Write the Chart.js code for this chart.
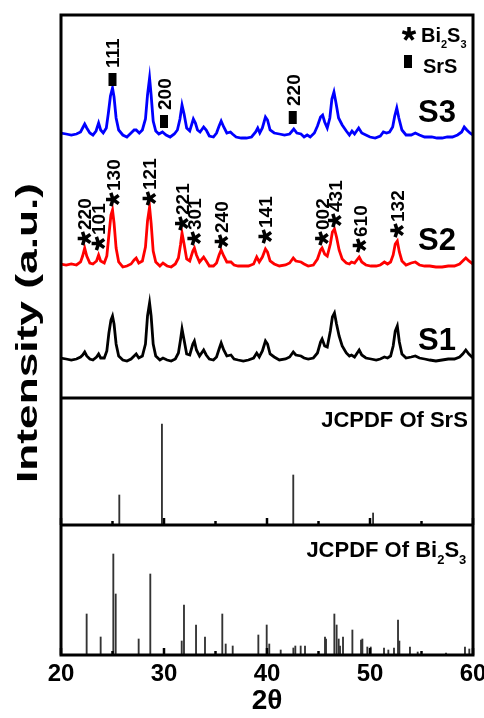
<!DOCTYPE html>
<html>
<head>
<meta charset="utf-8">
<script src="https://cdn.jsdelivr.net/npm/chart.js@4.4.1/dist/chart.umd.min.js"></script>
<style>
  html, body { margin: 0; padding: 0; background: #fff; }
  #wrap { width: 484px; height: 718px; }
</style>
</head>
<body>
<div id="wrap"><canvas id="xrd" width="484" height="718"></canvas></div>
<script>
// 2theta range and tick labels
const xTicks = [20, 30, 40, 50, 60];
const panelTicks = [20, 25, 30, 35, 40, 45, 50, 55, 60];

// measured patterns, [2theta, intensity above own baseline]
const s1 = [[20.0,2],[20.5,1],[21.0,0],[21.5,1],[21.9,3],[22.1,5],[22.3,8],[22.5,4],[22.8,1],[23.1,0],
  [23.45,3],[23.65,6],[23.85,2],[24.2,2],[24.45,9],[24.65,27],[24.85,40],[25.0,44],[25.15,36],[25.35,16],
  [25.6,4],[26.0,0],[26.4,-1],[26.8,1],[27.1,4],[27.3,6],[27.55,2],[27.9,4],[28.2,16],[28.4,44],
  [28.6,57],[28.75,44],[28.95,16],[29.2,4],[29.6,0],[29.9,2],[30.3,0],[30.7,-1],[31.1,1],[31.4,7],
  [31.6,20],[31.75,31],[31.95,20],[32.2,6],[32.5,5],[32.8,16],[32.95,19],[33.15,10],[33.45,4],[33.85,10],
  [34.1,5],[34.4,1],[34.8,0],[35.1,3],[35.35,11],[35.55,17],[35.8,10],[36.1,4],[36.5,5],[36.8,1],
  [37.2,0],[37.7,-1],[38.2,0],[38.7,2],[39.0,7],[39.25,3],[39.55,9],[39.85,19],[40.05,16],[40.3,6],
  [40.7,3],[41.2,0],[41.8,1],[42.2,3],[42.55,8],[42.8,5],[43.3,4],[43.6,2],[44.0,1],[44.5,2],
  [44.9,7],[45.2,18],[45.35,21],[45.6,14],[45.85,13],[46.15,29],[46.35,43],[46.55,47],[46.75,36],[47.0,24],
  [47.3,14],[47.7,7],[48.0,4],[48.2,5],[48.5,3],[48.95,10],[49.2,5],[49.6,2],[50.1,1],[50.6,0],
  [51.0,1],[51.4,3],[51.7,2],[52.0,4],[52.25,14],[52.45,29],[52.65,34],[52.85,18],[53.1,6],[53.5,2],
  [54.0,3],[54.4,4],[54.8,2],[55.3,1],[55.8,0],[56.4,-1],[57.0,0],[57.6,1],[58.2,1],[58.7,3],
  [59.0,6],[59.3,10],[59.6,6],[60.0,2]];

const s2 = [[20.0,1],[20.5,0],[21.0,1],[21.5,0],[21.9,3],[22.1,9],[22.3,17],[22.5,9],[22.8,2],[23.1,1],
  [23.45,4],[23.65,10],[23.85,4],[24.2,2],[24.45,9],[24.65,30],[24.85,50],[25.0,55],[25.15,42],[25.35,17],
  [25.6,3],[26.0,-2],[26.4,-1],[26.8,1],[27.1,5],[27.3,7],[27.55,2],[27.9,4],[28.2,18],[28.4,44],
  [28.6,58],[28.75,42],[28.95,14],[29.2,3],[29.6,-1],[29.9,2],[30.3,-1],[30.7,-2],[31.1,1],[31.4,7],
  [31.6,20],[31.75,32],[31.95,21],[32.2,6],[32.5,4],[32.8,14],[32.95,17],[33.15,10],[33.45,3],[33.85,8],
  [34.1,4],[34.4,-1],[34.8,-1],[35.1,2],[35.35,10],[35.55,15],[35.8,9],[36.1,3],[36.5,3],[36.8,0],
  [37.2,-1],[37.7,-1],[38.2,-1],[38.7,1],[39.0,8],[39.25,3],[39.55,8],[39.85,16],[40.05,13],[40.3,4],
  [40.7,1],[41.2,-1],[41.8,0],[42.2,2],[42.55,7],[42.8,4],[43.3,3],[43.6,1],[44.0,-1],[44.5,0],
  [44.9,6],[45.2,15],[45.35,17],[45.6,11],[45.85,9],[46.15,21],[46.35,33],[46.55,36],[46.75,28],[47.0,15],
  [47.3,6],[47.7,2],[48.0,1],[48.2,3],[48.5,2],[48.95,8],[49.2,3],[49.6,0],[50.1,-1],[50.6,-1],
  [51.0,0],[51.4,3],[51.7,1],[52.0,3],[52.25,10],[52.45,21],[52.65,24],[52.85,13],[53.1,4],[53.5,0],
  [54.0,2],[54.4,3],[54.8,0],[55.3,-1],[55.8,-1],[56.4,-2],[57.0,-2],[57.6,-1],[58.2,-1],[58.7,1],
  [59.0,4],[59.3,7],[59.6,4],[60.0,1]];

const s3 = [[20.0,2],[20.5,1],[21.0,0],[21.5,1],[21.9,3],[22.1,7],[22.3,11],[22.5,7],[22.8,2],[23.1,0],
  [23.4,4],[23.65,12],[23.85,5],[24.1,2],[24.4,7],[24.6,22],[24.8,39],[25.0,47],[25.15,38],[25.35,17],
  [25.6,5],[26.0,0],[26.4,-2],[26.8,2],[27.1,5],[27.3,5],[27.6,2],[27.9,5],[28.2,16],[28.4,40],
  [28.6,57],[28.75,40],[28.95,14],[29.2,4],[29.5,1],[29.85,3],[30.2,0],[30.6,-2],[31.0,1],[31.3,5],
  [31.55,16],[31.75,30],[31.95,21],[32.2,7],[32.5,4],[32.85,16],[33.05,12],[33.25,5],[33.5,3],[33.85,8],
  [34.1,5],[34.4,-1],[34.8,-2],[35.1,2],[35.35,9],[35.55,14],[35.8,8],[36.1,2],[36.45,3],[36.65,1],
  [37.0,-2],[37.5,-3],[38.0,-3],[38.5,-2],[38.9,3],[39.1,7],[39.3,2],[39.55,7],[39.85,18],[40.05,15],
  [40.3,5],[40.7,2],[41.2,1],[41.7,0],[42.2,1],[42.6,6],[42.9,2],[43.3,1],[43.6,-2],[43.9,0],
  [44.2,-2],[44.6,2],[44.9,9],[45.2,18],[45.4,20],[45.6,13],[45.85,7],[46.1,17],[46.3,36],[46.5,43],
  [46.7,32],[46.95,17],[47.3,10],[47.7,4],[48.0,0],[48.25,4],[48.5,1],[48.9,7],[49.2,2],[49.6,0],
  [50.0,-2],[50.5,-3],[51.0,-1],[51.3,3],[51.6,2],[51.9,3],[52.2,8],[52.4,19],[52.6,27],[52.8,17],
  [53.1,5],[53.5,0],[54.0,0],[54.4,2],[54.8,0],[55.3,-2],[56.0,-2],[56.5,-3],[57.0,-3],[57.5,-2],
  [58.0,-2],[58.5,0],[58.9,3],[59.15,8],[59.4,5],[59.7,2],[60.0,0]];

// reference patterns, [2theta, relative intensity]
const srsSticks = [[25.66,30],[29.8,101],[42.55,50],[50.3,12]];
const bi2s3Sticks = [[22.49,41],[23.85,18],[25.08,101],[25.31,61],[27.54,16],[28.67,81],[31.72,14],[31.94,50],
  [33.11,30],[33.98,18],[35.66,41],[35.99,11],[36.67,9],[39.16,20],[39.97,30],[40.22,11],[41.33,5],
  [42.56,7],[42.75,9],[43.27,9],[43.69,9],[45.63,18],[45.73,16],[46.54,41],[46.76,30],[46.96,16],
  [47.09,9],[47.38,18],[48.29,25],[49.13,15],[49.26,16],[49.74,8],[50.07,8],[51.36,7],[51.78,5],
  [52.33,7],[52.72,35],[52.85,14],[53.88,8],[54.63,3],[57.38,2],[59.22,8],[59.64,6]];

// indexed reflections: [hkl, 2theta, label anchor height]
const bi2s3Peaks = [['220',22.3,410],['101',23.65,405],['130',25.05,449],['121',28.6,450],
  ['221',31.75,425],['301',32.95,410],['240',35.6,407],['141',39.85,412],['002',45.35,410],
  ['431',46.6,428],['610',49.0,403],['132',52.65,418]];
const srsPeaks = [['111',25.0,569],['200',30.0,527],['220',42.5,531]];

const sampleNames = ['S1', 'S2', 'S3'];
const sampleColors = ['#000000', '#ff0000', '#0000ff'];

// panel layout in y units
const panelEdges = [0, 130, 257, 640];
const sampleBase = [295, 390, 520];
const FONT = "'Liberation Sans', Arial, sans-serif";

Chart.defaults.font.family = FONT;
Chart.defaults.color = '#000';

const lineSets = [s1, s2, s3].map((s, i) => ({
  label: sampleNames[i],
  data: s.map(p => ({ x: p[0], y: p[1] + sampleBase[i] })),
  borderColor: sampleColors[i],
  borderWidth: 2.8,
  pointRadius: 0,
  tension: 0,
  fill: false
}));

function stickSet(label, sticks, base) {
  return {
    type: 'bar',
    label: label,
    data: sticks.map(p => ({ x: p[0], y: [base, base + p[1]] })),
    backgroundColor: '#333',
    borderWidth: 0,
    barThickness: 1.2,
    grouped: false
  };
}

function drawStar(ctx, cx, cy, r) {
  ctx.save();
  ctx.lineWidth = 3.5;
  ctx.strokeStyle = '#000';
  ctx.beginPath();
  for (let k = 0; k < 5; k++) {
    const a = -Math.PI / 2 + k * 2 * Math.PI / 5;
    ctx.moveTo(cx, cy);
    ctx.lineTo(cx + r * Math.cos(a), cy + r * Math.sin(a));
  }
  ctx.stroke();
  ctx.restore();
}

// text with subscripts, parts: [text, isSub]
function partsWidth(ctx, parts, fs, sfs) {
  let w = 0;
  parts.forEach(p => {
    ctx.font = 'bold ' + (p[1] ? sfs : fs) + 'px ' + FONT;
    w += ctx.measureText(p[0]).width;
  });
  return w;
}
function drawParts(ctx, parts, x, y, fs, sfs) {
  parts.forEach(p => {
    ctx.font = 'bold ' + (p[1] ? sfs : fs) + 'px ' + FONT;
    ctx.fillText(p[0], x, y + (p[1] ? fs * 0.3 : 0));
    x += ctx.measureText(p[0]).width;
  });
}

const decor = {
  id: 'decor',
  afterDraw(chart) {
    const ctx = chart.ctx;
    const xs = chart.scales.x, ys = chart.scales.y;
    const a = chart.chartArea;
    ctx.save();
    ctx.fillStyle = '#000';
    ctx.strokeStyle = '#000';

    // frame and panel separators
    ctx.lineWidth = 3;
    ctx.strokeRect(a.left, a.top, a.right - a.left, a.bottom - a.top);
    [panelEdges[1], panelEdges[2]].forEach(v => {
      const y = ys.getPixelForValue(v);
      ctx.beginPath(); ctx.moveTo(a.left, y); ctx.lineTo(a.right, y); ctx.stroke();
    });

    // inward ticks on the two reference panels
    ctx.lineWidth = 2.5;
    [panelEdges[0], panelEdges[1]].forEach(v => {
      const y = ys.getPixelForValue(v);
      panelTicks.forEach(t => {
        const x = xs.getPixelForValue(t);
        const len = t % 10 === 0 ? 7 : 4;
        ctx.beginPath(); ctx.moveTo(x, y); ctx.lineTo(x, y - len); ctx.stroke();
      });
    });

    // y title
    ctx.save();
    ctx.font = 'bold 30px ' + FONT;
    const title = 'Intensity (a.u.)';
    const tw = ctx.measureText(title).width;
    ctx.translate(37, 333);
    ctx.rotate(-Math.PI / 2);
    ctx.scale(300 / tw, 1);
    ctx.textAlign = 'center';
    ctx.textBaseline = 'alphabetic';
    ctx.fillText(title, 0, 0);
    ctx.restore();

    // sample names
    ctx.font = 'bold 31px ' + FONT;
    ctx.textAlign = 'right';
    ctx.textBaseline = 'alphabetic';
    const nameY = [305, 405, 533];
    sampleNames.forEach((n, i) => {
      ctx.fillText(n, xs.getPixelForValue(58.35), ys.getPixelForValue(nameY[i]));
    });

    // reference panel captions
    ctx.textAlign = 'left';
    const capX = xs.getPixelForValue(59.5);
    let parts = [['JCPDF Of SrS', false]];
    let w = partsWidth(ctx, parts, 22, 13);
    drawParts(ctx, parts, capX - w, ys.getPixelForValue(228), 22, 13);
    parts = [['JCPDF Of Bi', false], ['2', true], ['S', false], ['3', true]];
    w = partsWidth(ctx, parts, 22, 13);
    drawParts(ctx, parts, xs.getPixelForValue(59.35) - w, ys.getPixelForValue(98), 22, 13);

    // legend
    drawStar(ctx, 409, 34, 7);
    drawParts(ctx, [['Bi', false], ['2', true], ['S', false], ['3', true]], 421, 42, 20, 11);
    ctx.fillRect(404, 55, 8, 13);
    drawParts(ctx, [['SrS', false]], 423, 73, 20, 11);

    // peak labels
    const fs = 19;
    bi2s3Peaks.forEach(p => {
      const cx = xs.getPixelForValue(p[1]);
      const by = ys.getPixelForValue(p[2]);
      ctx.save();
      ctx.translate(cx, by);
      ctx.rotate(-Math.PI / 2);
      drawStar(ctx, 6.5, 0, 7);
      ctx.font = 'bold ' + fs + 'px ' + FONT;
      ctx.textAlign = 'left';
      ctx.fillText(p[0], 15, fs * 0.358);
      ctx.restore();
    });
    srsPeaks.forEach(p => {
      const cx = xs.getPixelForValue(p[1]);
      const by = ys.getPixelForValue(p[2]);
      ctx.save();
      ctx.translate(cx, by);
      ctx.rotate(-Math.PI / 2);
      ctx.fillRect(0, -4, 13, 8);
      ctx.font = 'bold ' + fs + 'px ' + FONT;
      ctx.textAlign = 'left';
      ctx.fillText(p[0], 18, fs * 0.358);
      ctx.restore();
    });
    ctx.restore();
  }
};

new Chart(document.getElementById('xrd'), {
  type: 'line',
  data: {
    datasets: [
      ...lineSets,
      stickSet('JCPDF Of SrS', srsSticks, panelEdges[1]),
      stickSet('JCPDF Of Bi2S3', bi2s3Sticks, panelEdges[0])
    ]
  },
  options: {
    responsive: false,
    animation: false,
    devicePixelRatio: 1,
    layout: { padding: { left: 61, right: 11, top: 15, bottom: 0 } },
    plugins: { legend: { display: false }, tooltip: { enabled: false } },
    scales: {
      x: {
        type: 'linear',
        min: 20,
        max: 60,
        offset: false,
        afterBuildTicks: s => { s.ticks = xTicks.map(v => ({ value: v })); },
        afterFit: s => { s.height = 63; s.paddingLeft = 0; s.paddingRight = 0; },
        grid: { display: false, drawTicks: false },
        border: { display: false },
        ticks: { font: { size: 24, weight: 'bold' }, color: '#000', padding: 5, maxRotation: 0 },
        title: { display: true, text: '2θ', font: { size: 28, weight: 'bold' }, color: '#000', padding: 0 }
      },
      y: {
        type: 'linear',
        min: panelEdges[0],
        max: panelEdges[3],
        display: false
      }
    }
  },
  plugins: [decor]
});
</script>
</body>
</html>
